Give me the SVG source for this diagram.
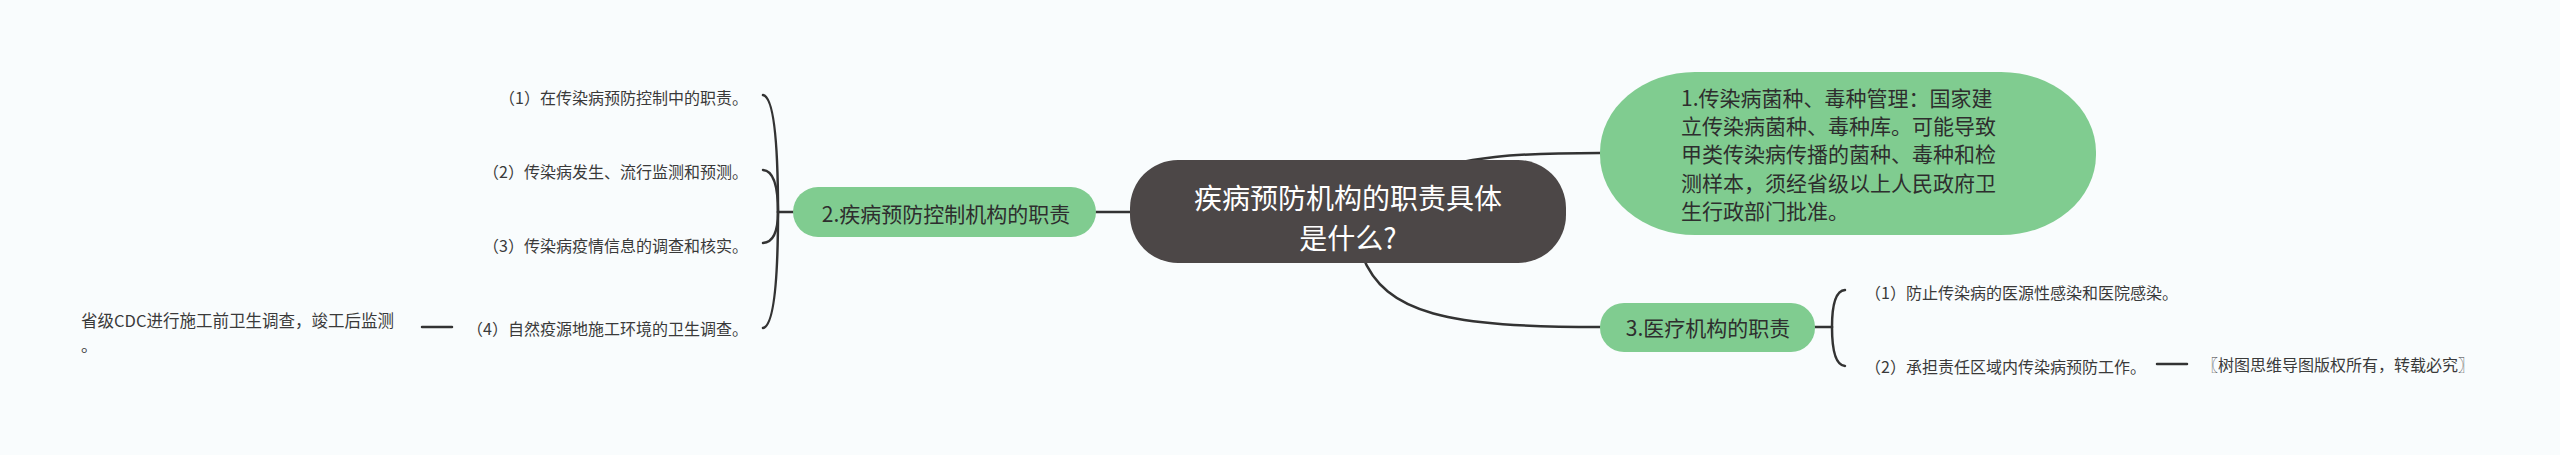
<svg xmlns="http://www.w3.org/2000/svg" width="2560" height="455" viewBox="0 0 2560 455">
<style>
text{font-family:"Noto Sans CJK SC","Noto Sans",sans-serif;}
.conn{fill:none;stroke:#333333;stroke-width:2.5;stroke-linecap:round;}
.green{fill:#80cc90;}
.dark{fill:#4c4747;}
.nt{font-size:21px;fill:#2e2e2e;}
.ct{font-size:28px;fill:#ffffff;text-anchor:middle;}
.lf{font-size:16px;fill:#3a3a3a;}
</style>
<rect x="0" y="0" width="2560" height="455" fill="#f9fcfd"/>
<g id="connectors">
<path class="conn" d="M1096,212 L1130,212"/>
<path class="conn" d="M1420,176 C1460,156 1520,153 1600,153"/>
<path class="conn" d="M1362,255 C1385,315 1450,327 1600,327"/>
<path class="conn" d="M795,212 L778,212"/>
<path class="conn" d="M778,212 Q778,98 763,95"/>
<path class="conn" d="M778,212 Q778,171 763,170"/>
<path class="conn" d="M778,212 Q778,242 763,243"/>
<path class="conn" d="M778,212 Q778,325 763,328"/>
<path class="conn" d="M1815,327 L1832,327"/>
<path class="conn" d="M1832,327 Q1832,291 1845,290"/>
<path class="conn" d="M1832,327 Q1832,365 1845,366"/>
<path class="conn" d="M422,327 L452,327"/>
<path class="conn" d="M2157,364 L2187,364"/>
</g>
<g id="center">
<rect class="dark" x="1130" y="160" width="436" height="103" rx="48" ry="48"/>
<text class="ct" x="1348" y="197" dominant-baseline="central">疾病预防机构的职责具体</text>
<text class="ct" x="1348" y="237" dominant-baseline="central">是什么?</text>
</g>
<g id="node1">
<rect class="green" x="1600" y="72" width="496" height="163" rx="95" ry="80"/>
<text class="nt" x="1681" dominant-baseline="central"><tspan x="1681" y="97">1.传染病菌种、毒种管理：国家建</tspan><tspan x="1681" y="125">立传染病菌种、毒种库。可能导致</tspan><tspan x="1681" y="153">甲类传染病传播的菌种、毒种和检</tspan><tspan x="1681" y="182">测样本，须经省级以上人民政府卫</tspan><tspan x="1681" y="210">生行政部门批准。</tspan></text>
</g>
<g id="node2">
<rect class="green" x="793" y="187" width="303" height="50" rx="25" ry="25"/>
<text class="nt" x="946" y="213" text-anchor="middle" dominant-baseline="central">2.疾病预防控制机构的职责</text>
</g>
<g id="node3">
<rect class="green" x="1600" y="303" width="215" height="49" rx="24" ry="24"/>
<text class="nt" x="1708" y="327" text-anchor="middle" dominant-baseline="central">3.医疗机构的职责</text>
</g>
<g id="leaf2-1"><text class="lf" x="748" y="97" text-anchor="end" dominant-baseline="central">（1）在传染病预防控制中的职责。</text></g>
<g id="leaf2-2"><text class="lf" x="748" y="171" text-anchor="end" dominant-baseline="central">（2）传染病发生、流行监测和预测。</text></g>
<g id="leaf2-3"><text class="lf" x="748" y="245" text-anchor="end" dominant-baseline="central">（3）传染病疫情信息的调查和核实。</text></g>
<g id="leaf2-4"><text class="lf" x="748" y="328" text-anchor="end" dominant-baseline="central">（4）自然疫源地施工环境的卫生调查。</text></g>
<g id="leaf2-4-1"><text class="lf" style="font-size:16.5px" x="81" dominant-baseline="central"><tspan x="81" y="320">省级CDC进行施工前卫生调查，竣工后监测</tspan><tspan x="81" y="345">。</tspan></text></g>
<g id="leaf3-1"><text class="lf" x="1865" y="292" dominant-baseline="central">（1）防止传染病的医源性感染和医院感染。</text></g>
<g id="leaf3-2"><text class="lf" x="1865" y="366" dominant-baseline="central">（2）承担责任区域内传染病预防工作。</text></g>
<g id="watermark"><text class="lf" x="2202" y="364" dominant-baseline="central">〖树图思维导图版权所有，转载必究〗</text></g>
</svg>
